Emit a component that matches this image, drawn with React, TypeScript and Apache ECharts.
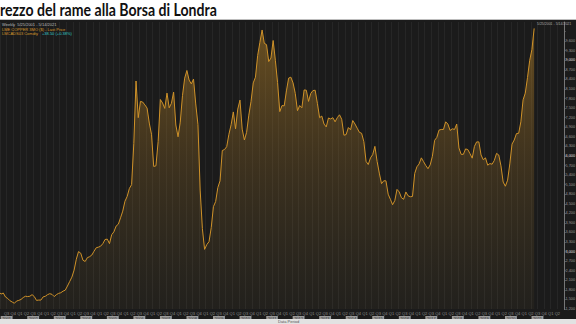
import React, { useEffect, useRef } from "react";
import * as echarts from "echarts";

const titleText = "rezzo del rame alla Borsa di Londra";
const headerLine1 = "Weekly  5/25/2001 - 5/14/2021";
const headerLine2 = "LME COPPER 3MO ($) - Last Price";
const headerLine3 = "LMCADS03 Comdty";
const headerChange = "+38.50 (+0.38%)";
const dateRange = "5/25/2001 - 5/14/2021";
const footerText = "Data Period";

const startYear = 2001;
const p2001 = [1770, 1750, 1735, 1670, 1700, 1575, 1530, 1460, 1420, 1380, 1450, 1470];
const p2002 = [1500, 1560, 1600, 1590, 1600, 1650, 1590, 1470, 1480, 1480, 1580, 1600];
const p2003 = [1650, 1680, 1660, 1590, 1650, 1690, 1710, 1760, 1790, 1920, 2060, 2200];
const p2004 = [2420, 2760, 3000, 2950, 2730, 2690, 2810, 2840, 2890, 3010, 3120, 3140];
const p2005 = [3170, 3250, 3380, 3390, 3250, 3530, 3620, 3800, 3860, 4060, 4270, 4580];
const p2006 = [4730, 4980, 5100, 6390, 8350, 7200, 7710, 7690, 7600, 7500, 7030, 6680];
const p2007 = [5670, 5690, 6450, 7770, 7660, 7490, 7970, 7510, 7650, 8000, 6970, 6600];
const p2008 = [7060, 7890, 8440, 8680, 8380, 8260, 8410, 7630, 6990, 4930, 3720, 3070];
const p2009 = [3220, 3310, 3750, 4410, 4570, 5010, 5220, 6170, 6200, 6290, 6680, 6980];
const p2010 = [7380, 6850, 7470, 7750, 6840, 6500, 6740, 7280, 7710, 8290, 8470, 9150];
const p2011 = [9560, 9950, 9530, 9490, 8960, 9070, 9620, 9000, 8300, 7390, 7580, 7570];
const p2012 = [8040, 8440, 8470, 8290, 7960, 7420, 7580, 7510, 8070, 8060, 7710, 7960];
const p2013 = [8050, 8060, 7650, 7200, 7250, 7000, 6910, 7190, 7160, 7200, 7070, 7200];
const p2014 = [7290, 7150, 6650, 6670, 6890, 6820, 7110, 7000, 6870, 6740, 6710, 6450];
const p2015 = [5830, 5730, 5940, 6040, 6300, 5830, 5460, 5130, 5220, 5220, 4800, 4640];
const p2016 = [4470, 4600, 4950, 4870, 4690, 4640, 4870, 4750, 4720, 4730, 5450, 5660];
const p2017 = [5750, 5940, 5820, 5700, 5600, 5720, 5990, 6490, 6580, 6810, 6830, 6830];
const p2018 = [7070, 7000, 6800, 6850, 6830, 7000, 6250, 6050, 6050, 6220, 6200, 6070];
const p2019 = [5930, 6300, 6440, 6440, 6030, 5880, 5940, 5710, 5760, 5740, 5860, 6080];
const p2020 = [6030, 5690, 5180, 5050, 5240, 5750, 6370, 6500, 6700, 6710, 7070, 7760];
const p2021 = [7970, 8460, 9000, 9340, 10000];
const priceYears = [p2001, p2002, p2003, p2004, p2005, p2006, p2007, p2008, p2009, p2010, p2011,
  p2012, p2013, p2014, p2015, p2016, p2017, p2018, p2019, p2020, p2021];
const quarterLabels = ["Q1", "Q2", "Q3", "Q4"];

function buildData(): number[][] {
  const out: number[][] = [];
  priceYears.forEach((arr, i) => {
    arr.forEach((v, m) => out.push([startYear + i + (m + 0.5) / 12, v]));
  });
  return out;
}

const fmt = (v: number) => v.toLocaleString("en-US");

export default function App() {
  const ref = useRef<HTMLDivElement>(null);
  useEffect(() => {
    document.body.style.margin = "0";
    const chart = echarts.init(ref.current!, undefined, { renderer: "svg" });
    const data = buildData();
    const last = data[data.length - 1][1];
    const xMin = 2001.25;
    const xMax = 2022.5;
    const small = "Liberation Sans";
    chart.setOption({
      animation: false,
      backgroundColor: "#1b1b1b",
      grid: { left: 0, right: 12, top: 22, bottom: 15, containLabel: false, outerBoundsMode: "none" },
      xAxis: [
        {
          type: "value",
          min: xMin,
          max: xMax,
          interval: 0.25,
          axisLine: { show: false },
          axisTick: { show: false },
          splitLine: { show: true, lineStyle: { color: "#262626", width: 1 } },
          axisLabel: {
            color: "#8e8e8e",
            fontSize: 4,
            fontFamily: small,
            margin: 2,
            showMinLabel: false,
            showMaxLabel: false,
            formatter: (v: number) => {
              if (v <= xMin) return "";
              const q = Math.round((v - Math.floor(v)) * 4) % 4;
              return quarterLabels[q];
            },
          },
        },
        {
          type: "value",
          min: xMin,
          max: xMax,
          interval: 0.25,
          position: "bottom",
          axisLine: { show: false },
          axisTick: { show: false },
          splitLine: { show: false },
          axisLabel: {
            margin: 7,
            showMinLabel: true,
            showMaxLabel: false,
            formatter: (v: number) => {
              const f = v - Math.floor(v);
              return Math.abs(f - 0.5) < 0.01 ? "{y|" + Math.floor(v) + "}" : "";
            },
            rich: {
              y: {
                fontSize: 4,
                fontFamily: small,
                color: "#2a2a2a",
                backgroundColor: "#9a9a9a",
                padding: [0, 1.5],
                lineHeight: 4,
              },
            },
          },
        },
      ],
      yAxis: {
        type: "value",
        position: "right",
        min: 1200,
        max: 10200,
        interval: 300,
        axisLine: { show: true, lineStyle: { color: "#777", width: 1 } },
        axisTick: { show: true, length: 1.5, lineStyle: { color: "#777" } },
        splitLine: { show: false },
        axisLabel: {
          fontSize: 3.8,
          fontFamily: small,
          margin: 1.5,
          showMaxLabel: false,
          formatter: (v: number) => {
            if (Math.abs(v - last) < 250 || v >= 10200) return "";
            return v % 3000 === 0 ? "{b|" + fmt(v) + "}" : "{a|" + fmt(v) + "}";
          },
          rich: {
            a: { fontSize: 3.8, fontFamily: small, color: "#9a9a9a" },
            b: { fontSize: 3.8, fontFamily: small, color: "#e0e0e0" },
          },
        },
      },
      series: [
        {
          type: "line",
          xAxisIndex: 0,
          data,
          showSymbol: false,
          symbol: "none",
          lineStyle: { color: "#cf9229", width: 1 },
          areaStyle: {
            color: new echarts.graphic.LinearGradient(0, 0, 0, 1, [
              { offset: 0, color: "rgba(205,145,40,0.62)" },
              { offset: 0.5, color: "rgba(160,115,40,0.36)" },
              { offset: 1, color: "rgba(130,105,50,0.10)" },
            ]),
          },
          markLine: {
            silent: true,
            symbol: "none",
            lineStyle: { opacity: 0 },
            data: [{ yAxis: last }],
            label: {
              position: "end",
              distance: 0.3,
              formatter: fmt(last),
              fontSize: 3.4,
              fontFamily: small,
              color: "#111",
              backgroundColor: "#e8a33a",
              padding: [1, 0.4],
            },
          },
        },
      ],
      graphic: [
        { type: "rect", shape: { x: 0, y: 0, width: 576, height: 20 }, style: { fill: "#ffffff" }, z: 10 },
        { type: "line", shape: { x1: 0, y1: 19.5, x2: 576, y2: 19.5 }, style: { stroke: "#bdbdbd", lineWidth: 1 }, z: 11 },
        {
          type: "text", x: 0, y: 1, z: 12, scaleX: 0.83,
          style: { text: titleText, font: "bold 17px Lato", fill: "#111" },
        },
        { type: "rect", shape: { x: 0, y: 319, width: 576, height: 5 }, style: { fill: "#e2e2e2" }, z: 10 },
        { type: "text", x: 278, y: 319.5, z: 12, style: { text: footerText, font: "4px Liberation Sans", fill: "#555" } },
        { type: "text", x: 2, y: 22, z: 12, style: { text: headerLine1, font: "4px Liberation Sans", fill: "#bbbbbb" } },
        { type: "text", x: 2, y: 27, z: 12, style: { text: headerLine2, font: "4px Liberation Sans", fill: "#d99a2c" } },
        { type: "text", x: 2, y: 31.5, z: 12, style: { text: headerLine3, font: "4px Liberation Sans", fill: "#d99a2c" } },
        {
          type: "text", x: 42, y: 31.5, z: 12,
          style: { text: headerChange, font: "4px Liberation Sans", fill: "#33c8c8" },
        },
        { type: "text", x: 537, y: 21.5, z: 12, style: { text: dateRange, font: "3.5px Liberation Sans", fill: "#aaaaaa" } },
      ],
    });
    return () => chart.dispose();
  }, []);
  return <div ref={ref} style={{ width: 576, height: 324 }} />;
}
